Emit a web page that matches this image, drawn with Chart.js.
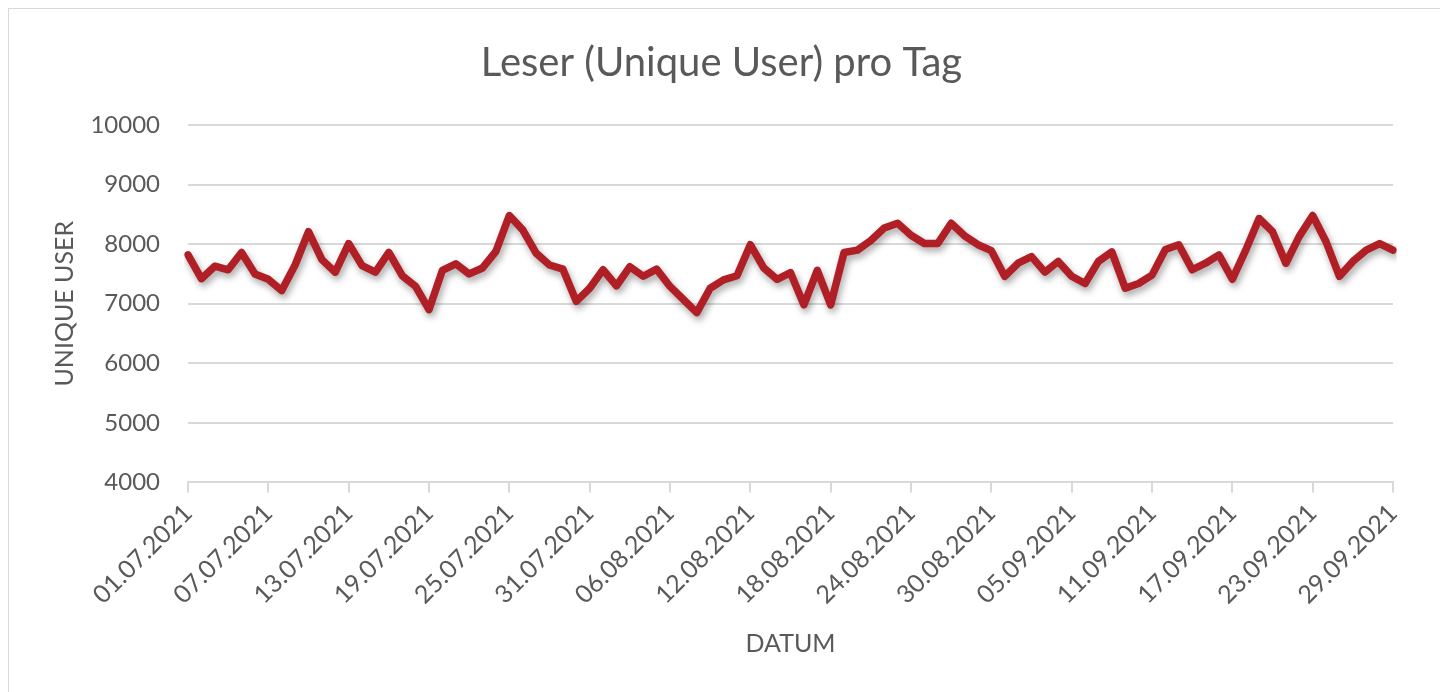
<!DOCTYPE html>
<html>
<head>
<meta charset="utf-8">
<script src="https://cdn.jsdelivr.net/npm/chart.js@4/dist/chart.umd.min.js"></script>
<style>
  html, body { margin: 0; padding: 0; background: #fff; }
  #frame { position: absolute; left: 8px; top: 8px; width: 1440px; height: 700px; border: 1px solid #d9d9d9; box-sizing: border-box; }
  #wrap { position: absolute; left: 0; top: 0; width: 1440px; height: 692px; }
</style>
</head>
<body>
<div id="frame"></div>
<div id="wrap"><canvas id="myChart"></canvas></div>
<script>
const startDate = new Date(2021, 6, 1)
const dayCount = 91
const labelStep = 6

// Unique User pro Tag, 01.07.2021 - 29.09.2021
const uniqueUser = [
  7820, 7420, 7630, 7570, 7860, 7500, 7410, 7220, 7650, 8210,
  7740, 7530, 8010, 7640, 7530, 7860, 7470, 7290, 6900, 7560,
  7670, 7500, 7600, 7880, 8480, 8240, 7850, 7650, 7580, 7040,
  7260, 7570, 7300, 7620, 7460, 7580, 7290, 7070, 6850, 7260,
  7400, 7470, 7990, 7600, 7410, 7520, 6980, 7560, 6980, 7860,
  7900, 8060, 8270, 8350, 8150, 8010, 8010, 8350, 8140, 7990,
  7890, 7460, 7680, 7790, 7530, 7710, 7460, 7340, 7710, 7870,
  7260, 7340, 7480, 7910, 7990, 7570, 7680, 7820, 7410, 7900,
  8430, 8210, 7680, 8130, 8480, 8040, 7460, 7710, 7900, 8010,
  7900
]

const yMin = 4000
const yMax = 10000
const yStep = 1000

const pad = (n) => String(n).padStart(2, '0')
const labels = []
for (let i = 0; i < dayCount; i++) {
  const d = new Date(startDate.getTime() + i * 86400000)
  labels.push(`${pad(d.getDate())}.${pad(d.getMonth() + 1)}.${d.getFullYear()}`)
}

const textColor = '#595959'
const gridColor = '#d9d9d9'
const fontFamily = 'Lato, "Open Sans", sans-serif'

// soft shadow under the line like the office chart
const lineShadow = {
  id: 'lineShadow',
  beforeDatasetDraw(chart) {
    const ctx = chart.ctx
    ctx.save()
    ctx.shadowColor = 'rgba(0,0,0,0.35)'
    ctx.shadowBlur = 7
    ctx.shadowOffsetX = 2
    ctx.shadowOffsetY = 4
  },
  afterDatasetDraw(chart) {
    chart.ctx.restore()
  }
}

const ctx = document.getElementById('myChart').getContext('2d')
new Chart(ctx, {
  type: 'line',
  data: {
    labels: labels,
    datasets: [{
      label: 'Unique User',
      data: uniqueUser,
      borderColor: '#b01f26',
      borderWidth: 7.5,
      pointRadius: 0,
      tension: 0,
      borderJoinStyle: 'round',
      borderCapStyle: 'round'
    }]
  },
  options: {
    responsive: true,
    maintainAspectRatio: false,
    animation: false,
    layout: {
      padding: { left: 50, right: 47, top: 39, bottom: 33 }
    },
    plugins: {
      legend: { display: false },
      tooltip: { enabled: false },
      title: {
        display: true,
        text: 'Leser (Unique User) pro Tag',
        color: textColor,
        font: { family: fontFamily, size: 40, weight: 'normal' },
        padding: { top: 0, bottom: 38 }
      }
    },
    scales: {
      x: {
        grid: {
          drawOnChartArea: false,
          drawTicks: true,
          tickLength: 10,
          color: gridColor,
          lineWidth: 2
        },
        border: { color: gridColor, width: 2 },
        ticks: {
          autoSkip: false,
          maxRotation: 45,
          minRotation: 45,
          padding: 6,
          color: textColor,
          font: { family: fontFamily, size: 25 },
          callback: function (value, index) {
            return index % labelStep === 0 ? labels[index] : null
          }
        },
        title: {
          display: true,
          text: 'DATUM',
          color: textColor,
          font: { family: fontFamily, size: 25 },
          padding: { top: 13, bottom: 0 }
        }
      },
      y: {
        min: yMin,
        max: yMax,
        afterFit: (scale) => { scale.width = 138 },
        grid: { color: gridColor, lineWidth: 2, drawTicks: false },
        border: { display: false },
        ticks: {
          stepSize: yStep,
          padding: 28,
          color: textColor,
          font: { family: fontFamily, size: 24 },
          callback: (value) => String(value)
        },
        title: {
          display: true,
          text: 'UNIQUE USER',
          color: textColor,
          font: { family: fontFamily, size: 25 },
          padding: { top: 0, bottom: 0 }
        }
      }
    }
  },
  plugins: [lineShadow]
})
</script>
</body>
</html>
